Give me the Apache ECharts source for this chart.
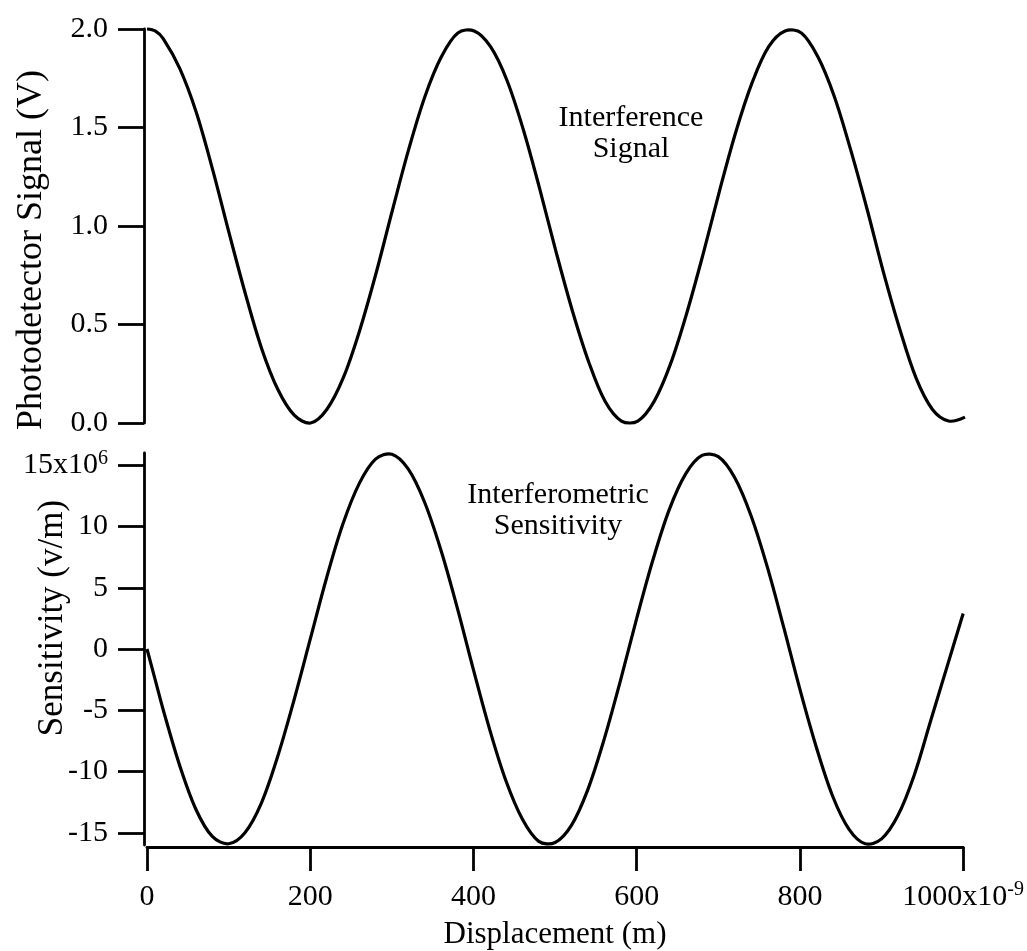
<!DOCTYPE html>
<html>
<head>
<meta charset="utf-8">
<script src="https://cdn.jsdelivr.net/npm/echarts@6/dist/echarts.min.js"></script>
<style>
html,body{margin:0;padding:0;background:#fff;}
#chart{width:1027px;height:951px;}
</style>
</head>
<body>
<div id="chart"></div>
<script>
// Displacement (nm, axis in units of 1e-9 m)
const displacement = [0,10,20,40,60,80,100,120,140,160,180,200,220,240,260,280,300,320,340,360,380,400,420,440,460,480,500,520,540,560,580,600,620,640,660,680,700,720,740,760,780,800,820,840,860,880,900,920,940,960,980,1000];
// Photodetector signal (V)
const signalV = [2.00,1.99,1.95,1.80,1.58,1.29,0.97,0.66,0.38,0.17,0.04,0.00,0.07,0.23,0.47,0.76,1.08,1.39,1.66,1.86,1.98,1.99,1.91,1.74,1.49,1.19,0.87,0.57,0.31,0.11,0.01,0.01,0.11,0.30,0.56,0.86,1.18,1.48,1.73,1.91,1.99,1.98,1.86,1.66,1.39,1.09,0.77,0.48,0.23,0.07,0.01,0.03];
// Interferometric sensitivity (x10^6 V/m)
const sensitivity = [0.0,-2.5,-5.0,-9.5,-13.1,-15.3,-15.9,-15.0,-12.6,-8.8,-4.2,0.8,5.8,10.2,13.5,15.5,15.9,14.7,12.0,8.1,3.4,-1.7,-6.6,-10.8,-13.9,-15.7,-15.8,-14.4,-11.5,-7.4,-2.6,2.5,7.3,11.4,14.3,15.8,15.7,14.0,10.9,6.7,1.8,-3.3,-8.0,-12.0,-14.7,-15.9,-15.5,-13.6,-10.3,-5.9,-1.5,2.9];
// Tick labels
const topTicks = [0.0,0.5,1.0,1.5,2.0];
const bottomTicks = [-15,-10,-5,0,5,10,15];
const xTicks = [0,200,400,600,800,1000];

const FONT = '"Liberation Serif", "DejaVu Serif", serif';
const chart = echarts.init(document.getElementById('chart'));

const pairs = (ys) => displacement.map((x, i) => [x, ys[i]]);
const axisLineStyle = {color:'#000', width:2.8};
const rich = {
  n:{fontFamily:FONT, fontSize:30, color:'#000', lineHeight:34},
  s:{fontFamily:FONT, fontSize:20, color:'#000', lineHeight:20, verticalAlign:'top'}
};

// smooth curve through all points, positioned by the axes' own scales
function curveSeries(xi, yi, ys) {
  const data = pairs(ys);
  return {
    type:'custom', xAxisIndex:xi, yAxisIndex:yi, data:data, clip:false,
    encode:{x:0, y:1},
    renderItem:function(params, api){
      if (params.dataIndex !== 0) return;
      const pts = data.map(d => api.coord(d));
      return {type:'polyline', shape:{points:pts, smooth:0.34},
              style:{stroke:'#000', lineWidth:3.2, fill:'none', lineJoin:'round'}};
    }
  };
}

chart.setOption({
  animation:false,
  backgroundColor:'#fff',
  grid:[
    {left:147, width:818, top:29, height:394},
    {left:147, width:818, top:453, height:392}
  ],
  xAxis:[
    {gridIndex:0, type:'value', min:0, max:1000, show:false},
    {gridIndex:1, type:'value', min:0, max:1000, interval:200, offset:2,
     axisLine:{show:true, onZero:false, lineStyle:axisLineStyle},
     axisTick:{show:true, inside:false, length:24, lineStyle:{color:'#000', width:2.8}, customValues:xTicks},
     axisLabel:{show:true, margin:33, fontFamily:FONT, fontSize:30, color:'#000', customValues:xTicks,
       formatter:(v)=> v===1000 ? '{n|1000x10}{s|-9}' : '{n|'+v+'}', rich:rich},
     splitLine:{show:false}}
  ],
  yAxis:[
    {gridIndex:0, type:'value', min:0, max:2, interval:0.5, offset:3,
     axisLine:{show:true, onZero:false, lineStyle:axisLineStyle},
     axisTick:{show:true, inside:false, length:26, lineStyle:{color:'#000', width:2.8}, customValues:topTicks},
     axisLabel:{show:true, margin:36, fontFamily:FONT, fontSize:30, color:'#000', customValues:topTicks,
       formatter:(v)=> v.toFixed(1)},
     splitLine:{show:false}},
    {gridIndex:1, type:'value', min:-16, max:16, offset:3,
     axisLine:{show:true, onZero:false, lineStyle:axisLineStyle},
     axisTick:{show:true, inside:false, length:26, lineStyle:{color:'#000', width:2.8}, customValues:bottomTicks},
     axisLabel:{show:true, margin:36, fontFamily:FONT, fontSize:30, color:'#000', customValues:bottomTicks,
       formatter:(v)=> v===15 ? '{n|15x10}{s|6}' : '{n|'+v+'}', rich:rich},
     splitLine:{show:false}}
  ],
  series:[
    curveSeries(0, 0, signalV),
    curveSeries(1, 1, sensitivity)
  ],
  graphic:[
    {type:'text', x:32, y:250, rotation:Math.PI/2,
     style:{text:'Photodetector Signal (V)', fontFamily:FONT, fontSize:36, fill:'#000', align:'center', verticalAlign:'middle'}},
    {type:'text', x:53, y:618, rotation:Math.PI/2,
     style:{text:'Sensitivity (v/m)', fontFamily:FONT, fontSize:35, fill:'#000', align:'center', verticalAlign:'middle'}},
    {type:'text', x:555, y:935,
     style:{text:'Displacement (m)', fontFamily:FONT, fontSize:31, fill:'#000', align:'center', verticalAlign:'middle'}},
    {type:'text', x:631, y:134,
     style:{text:'Interference\nSignal', fontFamily:FONT, fontSize:30, lineHeight:31, fill:'#000', align:'center', verticalAlign:'middle'}},
    {type:'text', x:558, y:511,
     style:{text:'Interferometric\nSensitivity', fontFamily:FONT, fontSize:30, lineHeight:31, fill:'#000', align:'center', verticalAlign:'middle'}}
  ]
});
</script>
</body>
</html>
